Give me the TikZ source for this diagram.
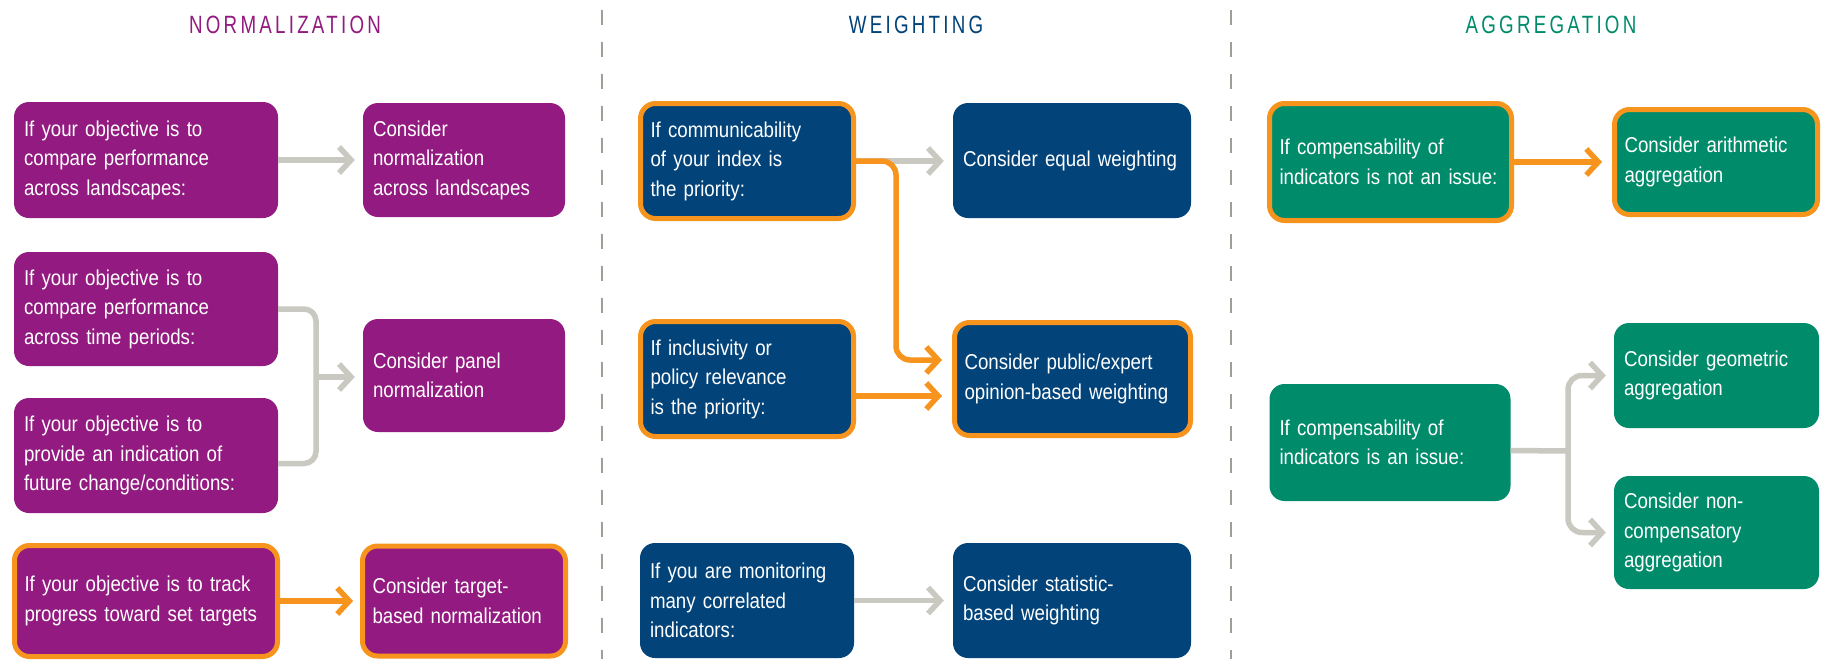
\documentclass[tikz,border=0pt]{standalone}
\usepackage{fontspec}
\usetikzlibrary{arrows.meta,calc}
\newfontfamily\bodyfont[FakeStretch=0.87]{Liberation Sans}
\newfontfamily\titlefont[FakeStretch=0.75,LetterSpace=13]{Liberation Sans}
\definecolor{npurple}{HTML}{931A80}
\definecolor{wblue}{HTML}{02437A}
\definecolor{agreen}{HTML}{008C6B}
\definecolor{hlorange}{HTML}{F7941D}
\definecolor{arrgray}{HTML}{C9C9C1}
\definecolor{divgray}{HTML}{9F9E97}
\begin{document}
\begin{tikzpicture}[x=1pt,y=-1pt,
  box/.style={rounded corners=15pt, inner xsep=10pt, inner ysep=0pt, align=left, text=white, font=\bodyfont\fontsize{21.5}{29.5}\selectfont},
  pbox/.style={box, fill=npurple},
  bbox/.style={box, fill=wblue},
  gbox/.style={box, fill=agreen},
  hl/.style={draw=hlorange, line width=5pt},
  ttl/.style={font=\titlefont\fontsize{25}{28}\selectfont, inner sep=0pt},
  gline/.style={draw=arrgray, line width=5.5pt},
  oline/.style={draw=hlorange, line width=5.5pt},
  tipg/.style={-{Straight Barb[length=12pt,width=26pt]}},
  divider/.style={draw=divgray, line width=2.5pt, dash pattern=on 15pt off 17pt},
]
\fill[white] (0,0) rectangle (1825,659);
\useasboundingbox (0,0) rectangle (1825,659);

% titles
\node[ttl, text=npurple] (t1) at (285,25) {NORMALIZATION};
\node[ttl, text=wblue] (t2) at (916,25) {WEIGHTING};
\node[ttl, text=agreen] (t3) at (1551,25) {AGGREGATION};

% dividers
\coordinate (d1a) at (602,10); \coordinate (d1b) at (602,659);
\coordinate (d2a) at (1231,10); \coordinate (d2b) at (1231,659);
\draw[divider] (d1a) -- (d1b);
\draw[divider] (d2a) -- (d2b);

% normalization
\node[pbox, text width=244pt, minimum height=116pt] (n1) at (146,160) {If your objective is to\\compare performance\\across landscapes:};
\node[pbox, text width=244pt, minimum height=114pt] (n2) at (146,309) {If your objective is to\\compare performance\\across time periods:};
\node[pbox, text width=244pt, minimum height=115pt] (n3) at (146,455.5) {If your objective is to\\provide an indication of\\future change/conditions:};
\node[pbox, hl, text width=243pt, minimum height=111pt] (n4) at (146,601) {If your objective is to track\\progress toward set targets};
\node[pbox, text width=182pt, minimum height=114pt] (r1) at (464,160) {Consider\\normalization\\across landscapes};
\node[pbox, text width=182pt, minimum height=113pt] (r2) at (464,375.5) {Consider panel\\normalization};
\node[pbox, hl, text width=183pt, minimum height=110pt] (r4) at (464,601) {Consider target-\\based normalization};

% weighting
\node[bbox, hl, text width=193pt, minimum height=115pt] (w1) at (747,161) {If communicability\\of your index is\\the priority:};
\node[bbox, text width=218pt, minimum height=115pt] (wr1) at (1072,160.5) {Consider equal weighting};
\node[bbox, hl, text width=193pt, minimum height=115pt] (w2) at (747,379) {If inclusivity or\\policy relevance\\is the priority:};
\node[bbox, hl, text width=216pt, minimum height=113pt] (wr2) at (1072.5,379) {Consider public/expert\\opinion-based weighting};
\node[bbox, text width=194pt, minimum height=115pt] (w3) at (747,600.5) {If you are monitoring\\many correlated\\indicators:};
\node[bbox, text width=218pt, minimum height=115pt] (wr3) at (1072,600.5) {Consider statistic-\\based weighting};

% aggregation
\node[gbox, hl, text width=222pt, minimum height=117pt] (a1) at (1390.5,162) {If compensability of\\indicators is not an issue:};
\node[gbox, hl, text width=183pt, minimum height=105pt] (ar1) at (1716,162) {Consider arithmetic\\aggregation};
\node[gbox, text width=221pt, minimum height=117pt] (a2) at (1390,442.5) {If compensability of\\indicators is an issue:};
\node[gbox, text width=185pt, minimum height=105pt] (ar2) at (1716.5,375.5) {Consider geometric\\aggregation};
\node[gbox, text width=185pt, minimum height=113pt] (ar3) at (1716.5,532.5) {Consider non-\\compensatory\\aggregation};

% connectors: normalization
\draw[gline, tipg, shorten >=8pt] (n1) -- (r1);
\coordinate (bj) at (316,377);
\draw[gline, rounded corners=12pt] (n2.east) -| (bj) |- ($(n3.east)+(0,8)$);
\draw[gline, tipg, shorten >=8pt] (bj) -- (r2.west |- bj);
\draw[oline, tipg, shorten >=7pt] (n4.east) -- (r4.west |- n4.east);

% connectors: weighting
\draw[gline, tipg, shorten >=9pt] (w1.east) -- (wr1.west |- w1.east);
\coordinate (wj) at (896,250);
\draw[oline, tipg, rounded corners=14pt, shorten >=10pt] (w1.east) -| (wj) |- ($(wr2.west)+(0,-19)$);
\draw[oline, tipg, shorten >=10pt] ($(w2.east)+(0,17)$) -- ($(wr2.west)+(0,17)$);
\draw[gline, tipg, shorten >=9pt] (w3.east) -- (wr3.west |- w3.east);

% connectors: aggregation
\draw[oline, tipg, shorten >=10pt] (a1) -- (ar1);
\coordinate (aj) at (1568,451);
\draw[gline] ($(a2.east)+(0,8)$) -- (aj);
\draw[gline, tipg, rounded corners=14pt, shorten >=8pt] (aj) |- (ar2.west);
\draw[gline, tipg, rounded corners=14pt, shorten >=8pt] (aj) |- (ar3.west);
\end{tikzpicture}
\end{document}
